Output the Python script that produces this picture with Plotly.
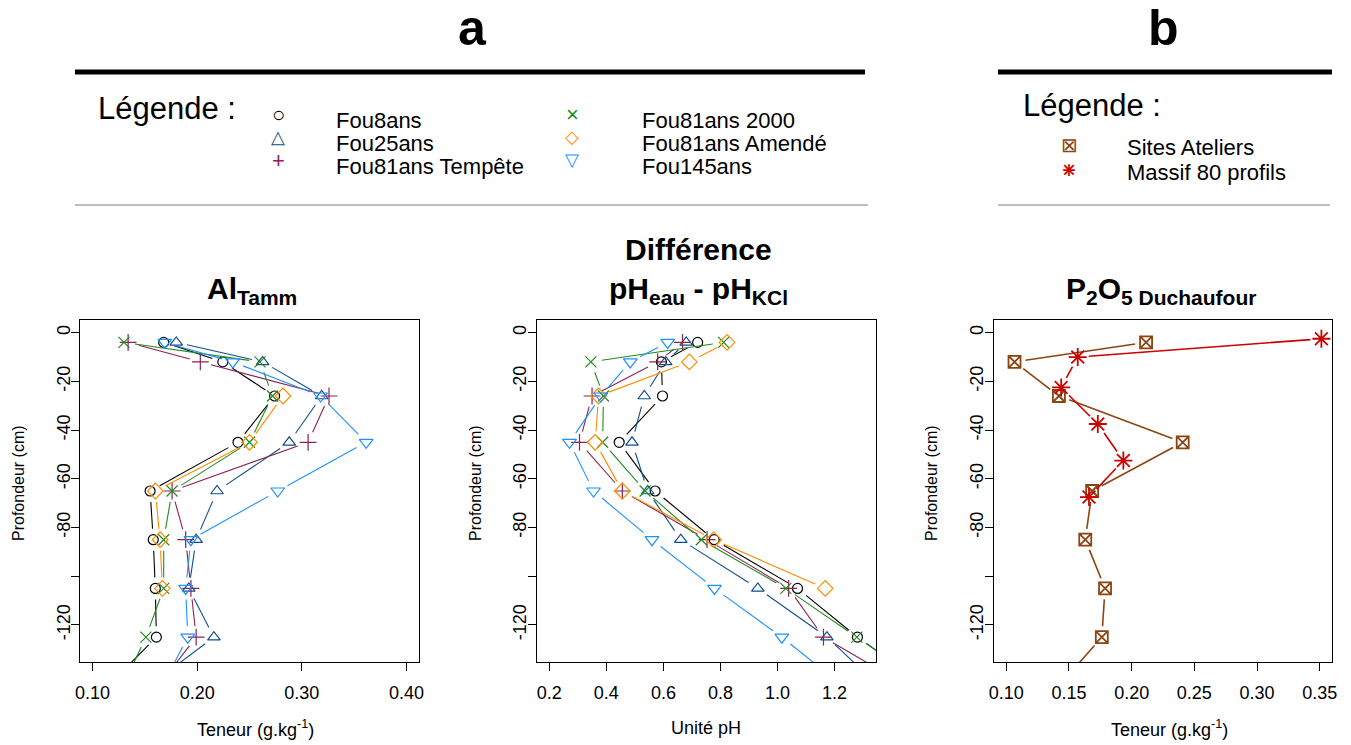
import math
import plotly.graph_objects as go

W, H = 1351, 745
FONT = "Liberation Sans, Arial, sans-serif"

# ---------------- data ----------------
depths = [-4, -12, -26, -45, -65, -85, -105, -125, -145]
series = ["Fou8ans", "Fou25ans", "Fou81ans Tempête", "Fou81ans 2000", "Fou81ans Amendé", "Fou145ans"]
series_colors = ["#000000", "#104E8B", "#8B2252", "#228B22", "#FF8C00", "#1E90FF"]
series_symbols = ["circle-open", "triangle-up-open", "cross-thin-open", "x-thin-open",
                  "diamond-open", "triangle-down-open"]
series_sizes = [10, 11, 12, 11, 12, 12]
legend_glyphs = ["○", "△", "+", "×", "◇", "▽"]
legend_glyph_sizes = [22, 18, 22, 22, 18, 18]

al_fou8ans = [0.168, 0.2245, 0.274, 0.239, 0.155, 0.158, 0.160, 0.161, 0.115]
al_fou25ans = [0.180, 0.2625, 0.319, 0.288, 0.219, 0.199, 0.192, 0.216, 0.154]
al_tempete = [0.134, 0.203, 0.326, 0.306, 0.176, 0.189, 0.194, 0.199, 0.163]
al_2000 = [0.130, 0.260, 0.272, 0.250, 0.176, 0.168, 0.168, 0.151, 0.129]
al_amende = [None, None, 0.282, 0.250, 0.160, 0.1645, 0.1667, None, None]
al_fou145ans = [0.169, 0.234, 0.318, 0.3615, 0.277, 0.194, 0.189, 0.191, 0.1665]

ph_fou8ans = [0.720, 0.593, 0.597, 0.445, 0.571, 0.778, 1.070, 1.280, 1.52]
ph_fou25ans = [0.680, 0.608, 0.533, 0.490, 0.545, 0.661, 0.931, 1.173, 1.355]
ph_tempete = [0.667, 0.580, 0.350, 0.306, 0.456, 0.753, 1.039, 1.161, 1.453]
ph_2000 = [0.811, 0.346, 0.390, 0.387, 0.536, 0.733, 1.029, 1.278, 1.53]
ph_amende = [0.823, 0.691, 0.373, 0.361, 0.456, 0.776, 1.167, None, None]
ph_fou145ans = [0.615, 0.484, 0.381, 0.271, 0.355, 0.560, 0.779, 1.015, 1.229]

p2o5_sites = [0.2115, 0.1066, 0.142, 0.2407, 0.1685, 0.163, 0.1788, 0.1762, 0.142]
massif_depths = [-2.5, -10, -22.5, -37.5, -52.5, -67.5]
p2o5_massif = [0.3513, 0.157, 0.1438, 0.173, 0.1934, 0.166]

b_names = ["Sites Ateliers", "Massif 80 profils"]
b_colors = ["#8B4513", "#CD0000"]
b_symbols = ["square-x-open", "asterisk-open"]
b_sizes = [12, 15]

al_xticks = [0.10, 0.20, 0.30, 0.40]
al_xlabels = ["0.10", "0.20", "0.30", "0.40"]
ph_xticks = [0.2, 0.4, 0.6, 0.8, 1.0, 1.2]
ph_xlabels = ["0.2", "0.4", "0.6", "0.8", "1.0", "1.2"]
p_xticks = [0.10, 0.15, 0.20, 0.25, 0.30, 0.35]
p_xlabels = ["0.10", "0.15", "0.20", "0.25", "0.30", "0.35"]
yticks = [0, -20, -40, -60, -80, -100, -120]
ylabels = ["0", "-20", "-40", "-60", "-80", "", "-120"]

al_xlim = (0.10, 0.40)
ph_xlim = (0.2, 1.3)
p_xlim = (0.10, 0.35)
ylim = (-130, 0)

# ---------------- layout constants (pixels) ----------------
PANEL_X = [(80, 419), (536.7, 875.7), (993.7, 1332.3)]
PANEL_Y = (320, 662)
GAP = 11  # px gap between line ends and points (R type="b")


def r_range(lim):
    d = (lim[1] - lim[0]) * 0.04
    return [lim[0] - d, lim[1] + d]


def gapped(xs, ys, xr, yr, px_x, gap=GAP):
    sx = (px_x[1] - px_x[0]) / (xr[1] - xr[0])
    sy = (PANEL_Y[1] - PANEL_Y[0]) / (yr[1] - yr[0])
    ox, oy = [], []
    for i in range(len(xs) - 1):
        x0, y0, x1, y1 = xs[i], ys[i], xs[i + 1], ys[i + 1]
        if None in (x0, y0, x1, y1):
            continue
        L = math.hypot((x1 - x0) * sx, (y1 - y0) * sy)
        if L <= 2 * gap:
            continue
        f = gap / L
        ox += [x0 + (x1 - x0) * f, x1 - (x1 - x0) * f, None]
        oy += [y0 + (y1 - y0) * f, y1 - (y1 - y0) * f, None]
    return ox, oy


fig = go.Figure()
yr = r_range(ylim)
panels = [
    ([al_fou8ans, al_fou25ans, al_tempete, al_2000, al_amende, al_fou145ans], r_range(al_xlim), "x", "y"),
    ([ph_fou8ans, ph_fou25ans, ph_tempete, ph_2000, ph_amende, ph_fou145ans], r_range(ph_xlim), "x2", "y2"),
]
for pi, (vals, xr, xa, ya) in enumerate(panels):
    for si, v in enumerate(vals):
        lx, ly = gapped(v, depths, xr, yr, PANEL_X[pi])
        fig.add_trace(go.Scatter(x=lx, y=ly, mode="lines", xaxis=xa, yaxis=ya,
                                 line=dict(color=series_colors[si], width=1.1),
                                 showlegend=False, hoverinfo="skip"))
        fig.add_trace(go.Scatter(x=v, y=depths, mode="markers", xaxis=xa, yaxis=ya, name=series[si],
                                 marker=dict(symbol=series_symbols[si], size=series_sizes[si],
                                             color=series_colors[si],
                                             line=dict(width=1.2, color=series_colors[si])),
                                 showlegend=False))

pxr = r_range(p_xlim)
for bi, (vals, dep) in enumerate([(p2o5_sites, depths), (p2o5_massif, massif_depths)]):
    col = b_colors[bi]
    lx, ly = gapped(vals, dep, pxr, yr, PANEL_X[2])
    fig.add_trace(go.Scatter(x=lx, y=ly, mode="lines", xaxis="x3", yaxis="y3",
                             line=dict(color=col, width=1.6), showlegend=False, hoverinfo="skip"))
    fig.add_trace(go.Scatter(x=vals, y=dep, mode="markers", xaxis="x3", yaxis="y3", name=b_names[bi],
                             marker=dict(symbol=b_symbols[bi], size=b_sizes[bi], color=col,
                                         line=dict(width=1.8, color=col)),
                             showlegend=False))


def xdom(i):
    return [PANEL_X[i][0] / W, PANEL_X[i][1] / W]


ydom = [1 - PANEL_Y[1] / H, 1 - PANEL_Y[0] / H]

axis_common = dict(showline=True, mirror=True, linecolor="black", linewidth=1.2,
                   ticks="outside", ticklen=8, tickwidth=1.2, tickcolor="black",
                   showgrid=False, zeroline=False,
                   tickfont=dict(family=FONT, size=18, color="black"))
layout = dict(width=W, height=H, margin=dict(l=0, r=0, t=0, b=0, autoexpand=False),
              plot_bgcolor="white", paper_bgcolor="white", showlegend=False)
xinfo = [(r_range(al_xlim), al_xticks, al_xlabels), (r_range(ph_xlim), ph_xticks, ph_xlabels),
         (pxr, p_xticks, p_xlabels)]
for i in range(3):
    sfx = "" if i == 0 else str(i + 1)
    xr, tv, tt = xinfo[i]
    layout["xaxis" + sfx] = dict(axis_common, domain=xdom(i), range=xr, tickvals=tv, ticktext=tt,
                                 anchor="y" + sfx, ticklabelstandoff=6)
    layout["yaxis" + sfx] = dict(axis_common, domain=ydom, range=yr, tickvals=yticks, ticktext=ylabels,
                                 anchor="x" + sfx, tickangle=-90, ticklabelstandoff=-6)

ann = []


def A(text, x, y, size, color="black", xanchor="center", yanchor="middle", angle=0):
    ann.append(dict(text=text, x=x / W, y=1 - y / H, xref="paper", yref="paper", showarrow=False,
                    xanchor=xanchor, yanchor=yanchor, textangle=angle,
                    font=dict(family=FONT, size=size, color=color)))


# big section letters
A("<b>a</b>", 472, 28, 50)
A("<b>b</b>", 1163, 28, 50)

# legends
A("Légende :", 96, 108, 31, xanchor="left")
col_x = [(278, 334), (572, 640)]
row_y = [121, 144, 167]
for si, nm in enumerate(series):
    c, r = divmod(si, 3)
    A(legend_glyphs[si], col_x[c][0], row_y[r] - 7, legend_glyph_sizes[si], color=series_colors[si])
    A(nm, col_x[c][1], row_y[r], 22, xanchor="left")

A("Légende :", 1021, 105, 31, xanchor="left")
A("⊠", 1069, 145, 20, color=b_colors[0])
A("+", 1069, 169, 24, color=b_colors[1])
A("×", 1069, 169, 24, color=b_colors[1])
A(b_names[0], 1125, 148, 22, xanchor="left")
A(b_names[1], 1125, 172, 22, xanchor="left")

# panel titles
A("<b>Al<sub>Tamm</sub></b>", 252, 290, 30)
A("<b>Différence</b>", 698, 250, 30)
A("<b>pH<sub>eau</sub> - pH<sub>KCl</sub></b>", 698, 290, 30)
A("<b>P<sub>2</sub>O<sub>5 Duchaufour</sub></b>", 1161, 290, 30)

# axis titles
A("Teneur (g.kg<sup>-1</sup>)", 255, 728, 18)
A("Unité pH", 706, 728, 18)
A("Teneur (g.kg<sup>-1</sup>)", 1169, 728, 18)
for xp in [18, 475, 931]:
    A("Profondeur (cm)", xp, 483, 16, angle=-90)

layout["annotations"] = ann

shapes = []
for (x0, x1) in [(75, 865), (998, 1332)]:
    shapes.append(dict(type="line", xref="paper", yref="paper", x0=x0 / W, x1=x1 / W,
                       y0=1 - 72 / H, y1=1 - 72 / H, line=dict(color="black", width=5)))
for (x0, x1) in [(75, 868), (998, 1330)]:
    shapes.append(dict(type="line", xref="paper", yref="paper", x0=x0 / W, x1=x1 / W,
                       y0=1 - 205 / H, y1=1 - 205 / H, line=dict(color="#BEBEBE", width=2)))
layout["shapes"] = shapes

fig.update_layout(**layout)
fig.write_html("out.html", config={"displayModeBar": False},
               post_script="document.body.style.margin='0';document.body.style.overflow='hidden';")
